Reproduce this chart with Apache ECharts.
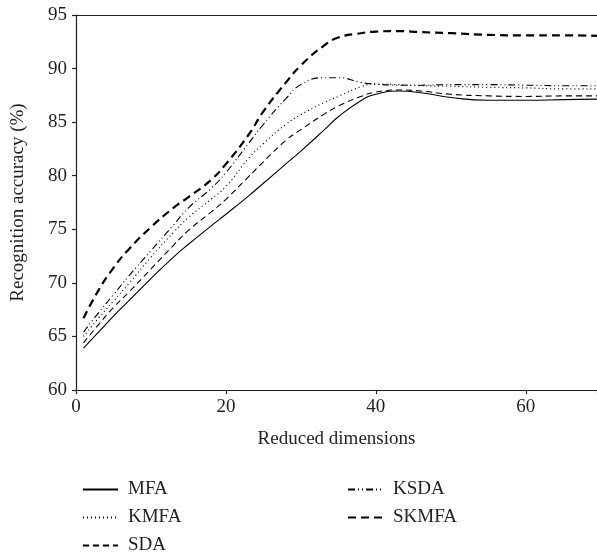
<!DOCTYPE html>
<html>
<head>
<meta charset="utf-8">
<script src="https://cdn.jsdelivr.net/npm/echarts@6.0.0/dist/echarts.min.js"></script>
<style>
    html, body { margin: 0; padding: 0; background: #fff; }
    #chart { width: 597px; height: 554px; }
</style>
</head>
<body>
<div id="chart"></div>
<script>
// reduced dimensions (x)
const dims = [1, 3, 5, 7, 10, 13, 15, 18, 20, 23, 25, 28, 30, 33, 35, 38, 40, 43, 46, 50, 55, 60, 65, 70];

// recognition accuracy (%) per method
const mfa   = [63.9, 65.4, 66.9, 68.3, 70.4, 72.4, 73.6, 75.3, 76.4, 78.1, 79.3, 81.1, 82.3, 84.2, 85.5, 87.0, 87.6, 87.9, 87.75, 87.3, 87.05, 87.05, 87.1, 87.15];
const kmfa  = [65.0, 66.7, 68.3, 69.9, 72.4, 74.7, 76.1, 77.8, 79.0, 81.6, 83.0, 84.8, 85.7, 86.8, 87.4, 88.3, 88.55, 88.5, 88.4, 88.35, 88.25, 88.2, 88.1, 88.1];
const sda   = [64.4, 66.1, 67.7, 69.1, 71.3, 73.5, 74.9, 76.6, 77.8, 79.9, 81.3, 83.3, 84.3, 85.7, 86.5, 87.4, 87.8, 88.0, 87.9, 87.6, 87.45, 87.4, 87.45, 87.45];
const ksda  = [65.4, 67.2, 68.9, 70.6, 73.0, 75.4, 77.0, 78.8, 80.3, 83.0, 84.8, 87.2, 88.5, 89.15, 89.15, 88.7, 88.55, 88.45, 88.45, 88.5, 88.5, 88.45, 88.4, 88.4];
const skmfa = [66.7, 69.3, 71.4, 73.1, 75.2, 77.0, 78.0, 79.6, 81.1, 83.8, 86.0, 88.7, 90.3, 92.1, 92.9, 93.3, 93.45, 93.5, 93.4, 93.3, 93.15, 93.1, 93.1, 93.05];

const names = ['MFA', 'KMFA', 'SDA', 'KSDA', 'SKMFA'];
const values = [mfa, kmfa, sda, ksda, skmfa];
const styles = [
    { width: 1.1, type: 'solid' },
    { width: 1.2, type: [1, 3] },
    { width: 1.1, type: [6, 4] },
    { width: 1.1, type: [7, 3, 1, 3, 1, 3] },
    { width: 2.2, type: [8, 5] }
];

const font = 'Liberation Serif';
const ink = '#231f20';

// legend column settings, symbol circle hidden so only the line sample shows
function legendAt(left, data) {
    return {
        data: data,
        orient: 'vertical',
        left: left,
        top: 475,
        height: 120,
        itemWidth: 35,
        itemHeight: 14,
        itemGap: 9,
        itemStyle: { color: 'rgba(0,0,0,0)', borderWidth: 0, opacity: 0 },
        textStyle: { fontFamily: font, fontSize: 19, lineHeight: 14, color: ink, padding: [0, 0, 0, 5] }
    };
}

let myChart = echarts.init(document.getElementById('chart'));

myChart.setOption({
    animation: false,
    grid: {
        left: 76,
        top: 15,
        right: 0,
        bottom: 164,
        outerBoundsMode: 'none'
    },
    legend: [legendAt(77, names.slice(0, 3)), legendAt(342, names.slice(3))],
    xAxis: [{
        type: 'value',
        min: 0,
        max: 69.5,
        interval: 20,
        name: 'Reduced dimensions',
        nameLocation: 'middle',
        nameGap: 40,
        nameTextStyle: { fontFamily: font, fontSize: 19, color: ink },
        axisLine: { lineStyle: { color: ink, width: 1.2 } },
        axisTick: { length: 4, lineStyle: { color: ink, width: 1.2 } },
        axisLabel: {
            fontFamily: font, fontSize: 19, color: ink, margin: 8,
            formatter: function (v) { return v % 20 === 0 ? String(v) : ''; }
        },
        splitLine: { show: false }
    }, {
        // top frame line only
        type: 'value',
        position: 'top',
        min: 0,
        max: 69.5,
        axisLine: { show: true, lineStyle: { color: ink, width: 1.2 } },
        axisTick: { show: false },
        axisLabel: { show: false },
        splitLine: { show: false }
    }],
    yAxis: {
        type: 'value',
        min: 60,
        max: 95,
        interval: 5,
        name: 'Recognition accuracy (%)',
        nameLocation: 'middle',
        nameGap: 48,
        nameTextStyle: { fontFamily: font, fontSize: 19, color: ink },
        axisLine: { show: true, lineStyle: { color: ink, width: 1.2 } },
        axisTick: { show: true, length: 4, lineStyle: { color: ink, width: 1.2 } },
        axisLabel: { fontFamily: font, fontSize: 19, color: ink, margin: 9 },
        splitLine: { show: false }
    },
    series: names.map(function (name, i) {
        return {
            name: name,
            type: 'line',
            smooth: 0.5,
            symbol: 'none',
            data: dims.map(function (d, j) { return [d, values[i][j]]; }),
            lineStyle: { color: '#000', width: styles[i].width, type: styles[i].type },
            itemStyle: { color: '#000' }
        };
    })
});
</script>
</body>
</html>
